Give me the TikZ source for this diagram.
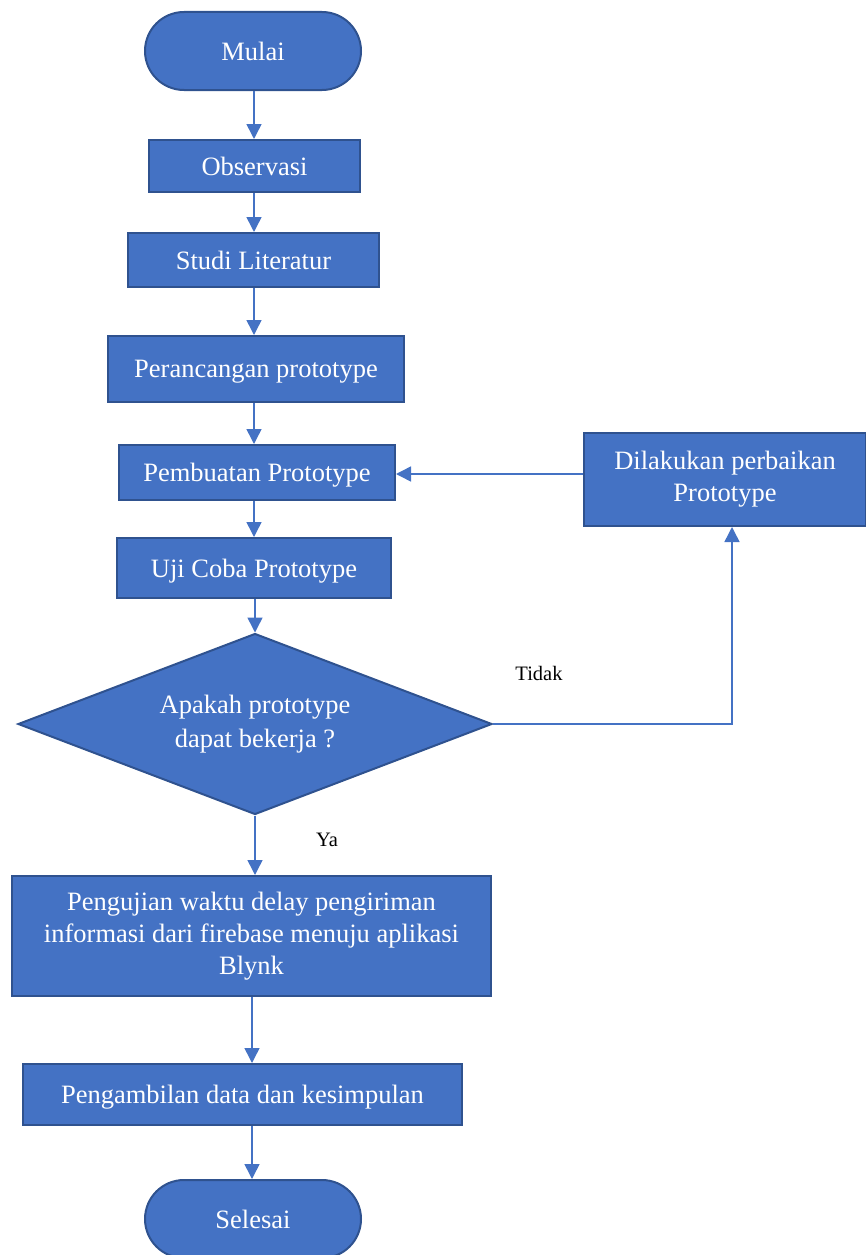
\documentclass[tikz,border=0pt]{standalone}
\usepackage{fontspec}
\setmainfont{Liberation Serif}
\usetikzlibrary{shapes.geometric,arrows.meta}
\definecolor{boxfill}{HTML}{4472C4}
\definecolor{boxline}{HTML}{2F528F}
\definecolor{linkcol}{HTML}{4472C4}
\tikzset{
  base/.style={fill=boxfill, draw=boxline, line width=2pt, text=white, inner sep=0pt,
    align=center, font=\fontsize{26.5}{32}\selectfont},
  procbox/.style={base, rectangle},
  oneline/.style={text depth=0pt},
  termbox/.style={base, oneline, rectangle, rounded corners=39pt, minimum width=216pt, minimum height=78pt},
  decbox/.style={base, diamond, aspect=2.6, font=\fontsize{26.5}{34}\selectfont},
  link/.style={draw=linkcol, line width=1.5pt, -{Triangle[length=15pt,width=15pt]}},
  lbl/.style={font=\fontsize{20.5}{24}\selectfont, text=black, inner sep=0pt}
}
\begin{document}
\begin{tikzpicture}[x=1pt,y=-1pt]
\useasboundingbox (0,0) rectangle (866,1255);

\node[termbox] (mulai) at (253,51) {Mulai};
\node[procbox, oneline, minimum width=211pt, minimum height=52pt] (obs) at (254.5,166) {Observasi};
\node[procbox, oneline, minimum width=251pt, minimum height=54pt] (studi) at (253.5,260) {Studi Literatur};
\node[procbox, oneline, minimum width=296pt, minimum height=66pt] (ranc) at (256,369) {Perancangan prototype};
\node[procbox, oneline, minimum width=276pt, minimum height=55pt] (buat) at (257,472.5) {Pembuatan Prototype};
\node[procbox, oneline, minimum width=274pt, minimum height=60pt] (uji) at (254,568) {Uji Coba Prototype};
\node[decbox, minimum width=474pt, minimum height=181pt] (cek) at (255,724) {\raisebox{-3pt}{\parbox{300pt}{\centering Apakah prototype\\dapat bekerja ?}}};
\node[procbox, minimum width=282pt, minimum height=93pt] (perb) at (725,479.5) {Dilakukan perbaikan\\Prototype};
\node[procbox, minimum width=479pt, minimum height=120pt] (delay) at (251.5,936) {\raisebox{-3pt}{\parbox{470pt}{\centering Pengujian waktu delay pengiriman\\informasi dari firebase menuju aplikasi\\Blynk}}};
\node[procbox, oneline, minimum width=439pt, minimum height=61pt] (ambil) at (242.5,1094.5) {Pengambilan data dan kesimpulan};
\node[termbox] (selesai) at (253,1219) {Selesai};

\node[lbl] (tidak) at (539,673) {Tidak};
\node[lbl] (ya) at (327,840) {Ya};

\draw[link] ([xshift=1pt]mulai.south) -- ([xshift=1pt]mulai.south |- obs.north);
\draw[link] ([xshift=-0.5pt]obs.south) -- ([xshift=-0.5pt]obs.south |- studi.north);
\draw[link] ([xshift=0.5pt]studi.south) -- ([xshift=0.5pt]studi.south |- ranc.north);
\draw[link] ([xshift=-2pt]ranc.south) -- ([xshift=-2pt]ranc.south |- buat.north);
\draw[link] ([xshift=-3pt]buat.south) -- ([xshift=-3pt]buat.south |- uji.north);
\draw[link] ([xshift=1pt]uji.south) -- ([xshift=1pt]uji.south |- cek.north);
\draw[link] (cek.south) -- (cek.south |- delay.north);
\draw[link] ([xshift=0.5pt]delay.south) -- ([xshift=0.5pt]delay.south |- ambil.north);
\draw[link] ([xshift=9.5pt]ambil.south) -- ([xshift=9.5pt]ambil.south |- selesai.north);
\draw[link] ([yshift=5.5pt]perb.west) -- ([yshift=5.5pt]perb.west -| buat.east);
\draw[link] (cek.east) -| ([xshift=7pt]perb.south);
\end{tikzpicture}
\end{document}
